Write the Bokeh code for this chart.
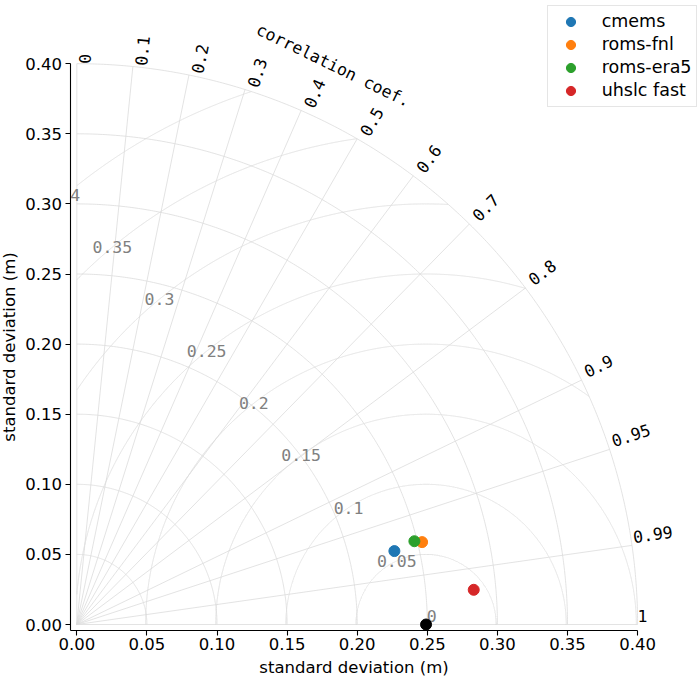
import numpy as np
from bokeh.plotting import figure
from bokeh.models import (Range1d, FixedTicker, NumeralTickFormatter, ColumnDataSource,
                          LabelSet, Label, Legend, LegendItem)
from bokeh.core.properties import value
from bokeh.embed import file_html
from bokeh.resources import INLINE

# ---------------- data ----------------
models = ["cmems", "roms-fnl", "roms-era5", "uhslc fast"]
model_std = [0.2325, 0.2532, 0.2480, 0.2842]
model_corr = [0.9743, 0.9727, 0.9709, 0.9962]
model_colors = ["#1f77b4", "#ff7f0e", "#2ca02c", "#d62728"]
ref_std = 0.2491

std_ticks = [0.00, 0.05, 0.10, 0.15, 0.20, 0.25, 0.30, 0.35, 0.40]
std_arcs = [0.05, 0.10, 0.15, 0.20, 0.25, 0.30, 0.35, 0.40]
corr_ticks = [0.0, 0.1, 0.2, 0.3, 0.4, 0.5, 0.6, 0.7, 0.8, 0.9, 0.95, 0.99, 1.0]
corr_labels = ["0", "0.1", "0.2", "0.3", "0.4", "0.5", "0.6", "0.7", "0.8", "0.9", "0.95", "0.99", "1"]
rmsd_levels = [0.0, 0.05, 0.10, 0.15, 0.20, 0.25, 0.30, 0.35, 0.40]
rmsd_labels = ["0", "0.05", "0.1", "0.15", "0.2", "0.25", "0.3", "0.35", "0.4"]

# ---------------- layout ----------------
W = H = 700
S = 1402.0                 # pixels per data unit
OX, OY = 76.3, 624.0       # pixel position of the data origin inside the canvas
X0 = Y0 = -0.0042          # axis spine positions
XMAX = 0.40

p = figure(width=W, height=H,
           x_range=Range1d(-OX / S, (W - OX) / S), y_range=Range1d(-(H - OY) / S, OY / S),
           output_backend="svg", toolbar_location=None, min_border=0)
p.min_border_left = p.min_border_right = p.min_border_top = p.min_border_bottom = 0
p.xgrid.visible = False
p.ygrid.visible = False
p.outline_line_color = None
p.background_fill_color = "white"
p.border_fill_color = "white"

SANS = "DejaVu Sans"
MONO = "DejaVu Sans Mono"
FS = "16.5px"

for ax in (p.xaxis[0], p.yaxis[0]):
    ax.ticker = FixedTicker(ticks=std_ticks)
    ax.formatter = NumeralTickFormatter(format="0.00")
    ax.minor_tick_line_color = None
    ax.major_tick_out = 5
    ax.major_tick_in = 0
    ax.axis_line_color = "black"
    ax.axis_line_width = 1.1
    ax.major_tick_line_color = "black"
    ax.major_tick_line_width = 1.1
    ax.major_label_text_color = "black"
    ax.major_label_text_font = SANS
    ax.major_label_text_font_size = FS
    ax.axis_label = "standard deviation (m)"
    ax.axis_label_text_font = SANS
    ax.axis_label_text_font_size = FS
    ax.axis_label_text_font_style = "normal"
    ax.axis_label_text_color = "black"
p.xaxis[0].fixed_location = Y0
p.xaxis[0].bounds = (X0, XMAX)
p.yaxis[0].fixed_location = X0
p.yaxis[0].bounds = (Y0, XMAX)
p.xaxis[0].major_label_standoff = 3
p.xaxis[0].axis_label_standoff = 4
p.yaxis[0].major_label_standoff = 4
p.yaxis[0].axis_label_standoff = 3

GRID = "#dcdcdc"
RMAX = std_arcs[-1]

# standard deviation arcs
th = np.linspace(0, np.pi / 2, 300)
p.multi_line([list(r * np.cos(th)) for r in std_arcs], [list(r * np.sin(th)) for r in std_arcs],
             line_color=GRID, line_width=0.8)

# correlation rays
ang = [float(np.arccos(c)) for c in corr_ticks]
p.multi_line([[0, RMAX * np.cos(a)] for a in ang], [[0, RMAX * np.sin(a)] for a in ang],
             line_color=GRID, line_width=0.8)

# RMSD arcs centred on the reference
phi = np.linspace(0, np.pi, 3000)
rx, ry = [], []
for r in rmsd_levels[1:]:
    x = ref_std + r * np.cos(phi)
    y = r * np.sin(phi)
    m = (x >= 0) & (x * x + y * y <= RMAX * RMAX)
    rx.append(list(x[m])); ry.append(list(y[m]))
p.multi_line(rx, ry, line_color=GRID, line_width=0.8)

# RMSD labels: where a straight line leaving the x axis up-left crosses each arc
o = np.array([0.0203, 0.0])
d = np.array([np.cos(np.radians(132.2)), np.sin(np.radians(132.2))])
zero_off = np.array([0.004, 0.0064])
lx, ly = [], []
for r in rmsd_levels:
    if r == 0:
        pt = zero_off
    else:
        od = o @ d
        t = -od + np.sqrt(od * od - o @ o + r * r)
        pt = o + t * d
    lx.append(ref_std + pt[0]); ly.append(pt[1])
p.text(x=lx, y=ly, text=rmsd_labels, text_align="center", text_baseline="middle",
       text_color="#808080", text_font=value(MONO), text_font_size=FS)

# white mask left of the y spine (plot-area clipping)
xr0 = -OX / S
p.quad(left=[xr0], right=[X0], bottom=[-(H - OY) / S], top=[OY / S],
       fill_color="white", line_color=None)

# points
p.scatter([ref_std], [0.0], size=11, color="black")
renderers = []
for name, s, c, col in zip(models, model_std, model_corr, model_colors):
    x = s * c
    y = s * np.sqrt(1 - c * c)
    renderers.append(p.scatter([x], [y], size=11, color=col))

# correlation labels (rotated bbox lower-left anchored at the outer arc)
fpx = 16.5
cw = 0.602 * fpx
hh = 1.0 * fpx
cx, cy = [], []
for a, t in zip(ang, corr_labels):
    w = len(t) * cw
    BW = w * np.cos(a) + hh * np.sin(a)
    BH = w * np.sin(a) + hh * np.cos(a)
    cx.append(RMAX * np.cos(a) + BW / 2 / S)
    cy.append(RMAX * np.sin(a) + BH / 2 / S)
src = ColumnDataSource(dict(x=cx, y=cy, text=corr_labels, angle=ang))
p.add_layout(LabelSet(x="x", y="y", text="text", angle="angle", source=src,
                      text_align="center", text_baseline="middle", text_color="black",
                      text_font=value(MONO), text_font_size=FS))

ta = np.radians(65.35)
p.add_layout(Label(x=0.4387 * np.cos(ta), y=0.4387 * np.sin(ta), text="correlation coef.",
                   angle=np.radians(-26), text_align="center", text_baseline="middle",
                   text_color="black", text_font=MONO, text_font_size=FS))

legend = Legend(items=[LegendItem(label=n, renderers=[r]) for n, r in zip(models, renderers)],
                location=(546.7, 593.2))
legend.padding = 4
legend.margin = 0
legend.spacing = 0
legend.glyph_width = 37
legend.glyph_height = 23
legend.label_height = 23
legend.label_standoff = 13
legend.label_text_font = SANS
legend.label_text_font_size = "17.5px"
legend.label_text_color = "black"
legend.border_line_color = "#cccccc"
legend.border_line_width = 1
legend.background_fill_alpha = 0.8
p.add_layout(legend)

open("out.html", "w").write(file_html(p, INLINE))
